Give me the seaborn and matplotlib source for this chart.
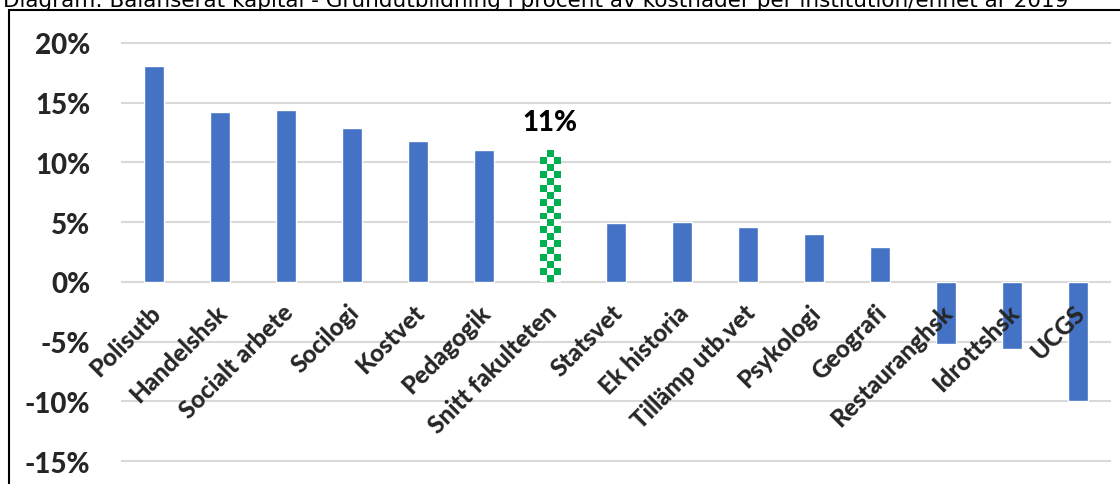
import numpy as np
import matplotlib
matplotlib.use("Agg")
import matplotlib.pyplot as plt
import matplotlib.transforms as mtransforms
from matplotlib.colors import ListedColormap
from matplotlib.lines import Line2D
import seaborn as sns

# --------------------
# Données
# --------------------
institutioner = ["Polisutb", "Handelshsk", "Socialt arbete", "Socilogi", "Kostvet",
                 "Pedagogik", "Snitt fakulteten", "Statsvet", "Ek historia",
                 "Tillämp utb.vet", "Psykologi", "Geografi", "Restauranghsk",
                 "Idrottshsk", "UCGS"]
kapital_pct = [18.1, 14.2, 14.4, 12.9, 11.8, 11.0, 11.0, 4.9, 5.0, 4.6, 4.0, 2.9,
               -5.2, -5.6, -10.0]
snitt_label = "11%"
y_ticks = [-15, -10, -5, 0, 5, 10, 15, 20]
y_ticklabels = [f"{v}%" for v in y_ticks]
titel = ("Diagram: Balanserat kapital - Grundutbildning i procent av kostnader "
         "per institution/enhet år 2019")

BLA = "#4472C4"
GRON = "#00B050"
GRID = "#D9D9D9"
SNITT = "Snitt fakulteten"

# --------------------
# Figure
# --------------------
sns.set_theme(style="white")
plt.rcParams["font.family"] = ["Lato", "DejaVu Sans"]
plt.rcParams["font.weight"] = 900

W, H = 1120, 485
fig = plt.figure(figsize=(W / 100, H / 100), dpi=100)
ax = fig.add_axes([121 / W, (H - 464.4) / H, (1111 - 121) / W, (464.4 - 41.6) / H])

palette = {c: ("white" if c == SNITT else BLA) for c in institutioner}
sns.barplot(x=institutioner, y=kapital_pct, hue=institutioner, palette=palette,
            width=0.31, saturation=1, legend=False, ax=ax)

ax.set_xlim(-0.5, len(institutioner) - 0.5)
ax.set_ylim(-15.2, 20.2)

# rutig stapel för fakultetssnittet
idx = institutioner.index(SNITT)
bar = [p for p in ax.patches if abs(p.get_x() + p.get_width() / 2 - idx) < 1e-6][0]
bar.set_edgecolor("none")
x0, w, h = bar.get_x(), bar.get_width(), bar.get_height()
px_x = ax.transData.transform((1, 0))[0] - ax.transData.transform((0, 0))[0]
px_y = ax.transData.transform((0, 1))[1] - ax.transData.transform((0, 0))[1]
ncol = 3
cell = w * px_x / ncol
nrow = int(round(h * px_y / cell))
checker = np.indices((nrow, ncol)).sum(axis=0) % 2
img = ax.imshow(checker, cmap=ListedColormap(["white", GRON]), extent=(x0, x0 + w, 0, h),
                origin="lower", aspect="auto", interpolation="nearest", zorder=3)
img.set_clip_path(bar)
ax.set_xlim(-0.5, len(institutioner) - 0.5)
ax.set_ylim(-15.2, 20.2)

ax.annotate(snitt_label, xy=(idx, kapital_pct[idx]), xytext=(0, 11),
            textcoords="offset points", ha="center", va="bottom",
            fontsize=20, color="black")

# axlar och rutnät
ax.set_yticks(y_ticks, labels=y_ticklabels)
ax.yaxis.grid(True, color=GRID, linewidth=1.5)
ax.set_axisbelow(True)
ax.xaxis.set_zorder(5)  # etiketterna ska ligga över de negativa staplarna
for s in ["left", "right", "top"]:
    ax.spines[s].set_visible(False)
ax.spines["bottom"].set_position(("data", 0))
ax.spines["bottom"].set_color("none")
ax.tick_params(axis="y", length=0, pad=22, labelsize=20)
ax.tick_params(axis="x", length=0, pad=19, labelsize=17.5)
offset = mtransforms.ScaledTranslation(3 / 100, 0, fig.dpi_scale_trans)
for lab in ax.get_xticklabels():
    lab.set_rotation(45)
    lab.set_rotation_mode("anchor")
    lab.set_ha("right")
    lab.set_va("center")
    lab.set_transform(lab.get_transform() + offset)

# ram och rubrik
fig.add_artist(Line2D([9 / W, 9 / W], [0, 1 - 11 / H], transform=fig.transFigure,
                      color="black", linewidth=1.5))
fig.add_artist(Line2D([9 / W, 1], [1 - 11 / H, 1 - 11 / H], transform=fig.transFigure,
                      color="black", linewidth=1.5))
fig.text(3 / W, 1 - 7 / H, titel, ha="left", va="baseline", fontsize=15.5,
         family="DejaVu Sans", fontweight="normal", color="black")

fig.savefig("out.png", dpi=100)
